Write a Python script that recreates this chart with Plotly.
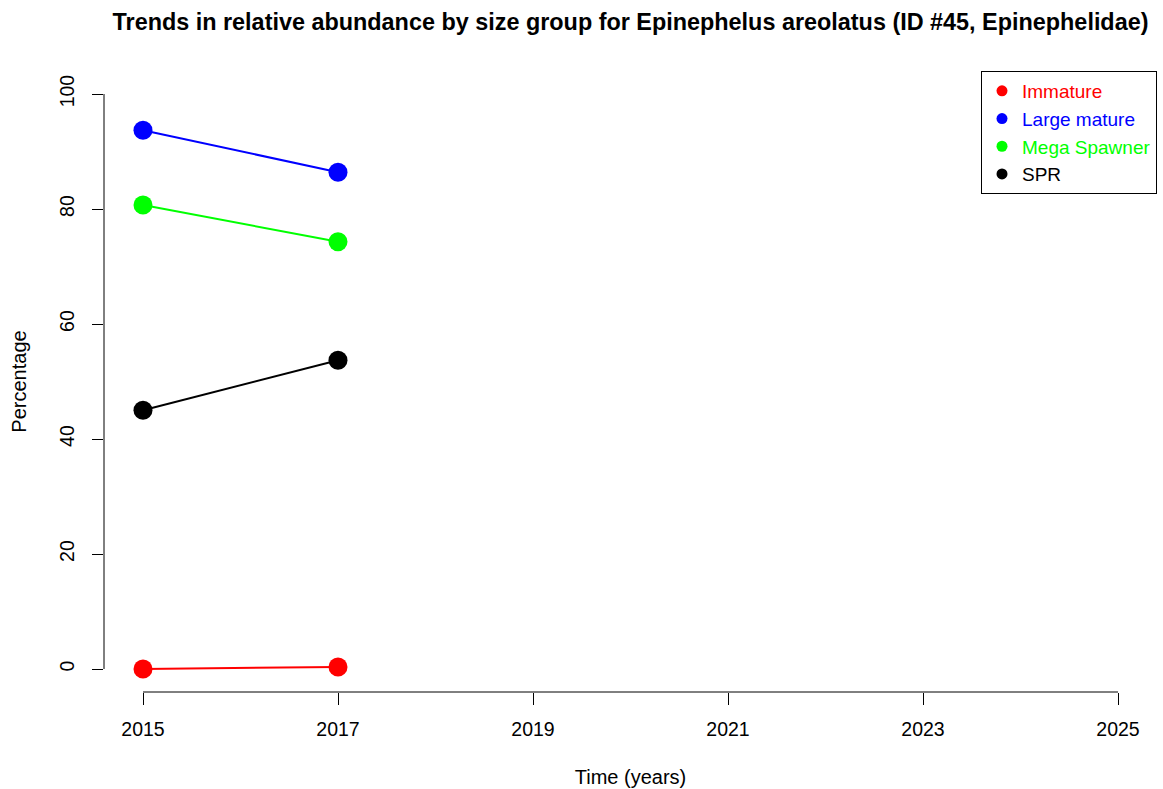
import plotly.graph_objects as go

# Survey years and percentage values per size group
years = [2015, 2017]
immature = [0.0, 0.35]
large_mature = [93.7, 86.4]
mega_spawner = [80.7, 74.3]
spr = [45.0, 53.7]

series_names = ["Immature", "Large mature", "Mega Spawner", "SPR"]
series_colors = ["#ff0000", "#0000ff", "#00ff00", "#000000"]
series_values = [immature, large_mature, mega_spawner, spr]

x_ticks = [2015, 2017, 2019, 2021, 2023, 2025]
y_ticks = [0, 20, 40, 60, 80, 100]

FONT = "Liberation Sans, Arial, Helvetica, sans-serif"

fig = go.Figure()

# Lines with large dots for each group
for name, color, vals in zip(series_names, series_colors, series_values):
    fig.add_trace(go.Scatter(
        x=years, y=vals, mode="lines+markers", name=name,
        line=dict(color=color, width=2),
        marker=dict(color=color, size=19),
        showlegend=False,
    ))

# Legend entries: dot symbol with coloured label
for name, color in zip(series_names, series_colors):
    fig.add_trace(go.Scatter(
        x=[None], y=[None], mode="markers",
        name=f'<span style="color:{color}">{name}</span>',
        marker=dict(color=color, size=11),
    ))

# Axis lines that span only the tick range
fig.add_shape(type="line", xref="x", yref="y domain",
              x0=x_ticks[0], x1=x_ticks[-1], y0=0, y1=0,
              line=dict(color="black", width=1))
fig.add_shape(type="line", xref="x domain", yref="y",
              x0=0, x1=0, y0=y_ticks[0], y1=y_ticks[-1],
              line=dict(color="black", width=1))

x_pad = 0.04 * (x_ticks[-1] - x_ticks[0])
y_pad = 0.04 * (y_ticks[-1] - y_ticks[0])

fig.update_layout(
    width=1163, height=789,
    paper_bgcolor="white", plot_bgcolor="white",
    margin=dict(l=104, r=6, t=71, b=97),
    font=dict(family=FONT, size=20, color="black"),
    title=dict(
        text="<b>Trends in relative abundance by size group for Epinephelus areolatus (ID #45, Epinephelidae)</b>",
        x=0.5, xref="paper", xanchor="center",
        y=1 - 22 / 789, yref="container", yanchor="middle",
        font=dict(size=23.4, family=FONT, color="black"),
    ),
    xaxis=dict(
        range=[x_ticks[0] - x_pad, x_ticks[-1] + x_pad],
        tickvals=x_ticks, ticktext=[str(t) for t in x_ticks],
        ticks="outside", ticklen=12, tickwidth=1, tickcolor="black",
        ticklabelstandoff=8,
        showline=False, showgrid=False, zeroline=False,
        title=dict(text="Time (years)", standoff=30, font=dict(size=20)),
        tickfont=dict(size=19.5),
    ),
    yaxis=dict(
        range=[y_ticks[0] - y_pad, y_ticks[-1] + y_pad],
        tickvals=y_ticks, ticktext=[str(t) for t in y_ticks],
        tickangle=-90,
        ticks="outside", ticklen=11, tickwidth=1, tickcolor="black",
        ticklabelstandoff=10,
        showline=False, showgrid=False, zeroline=False,
        title=dict(text="Percentage", standoff=24, font=dict(size=20)),
        tickfont=dict(size=19.5),
    ),
    legend=dict(
        x=1, xanchor="right", y=1, yanchor="top",
        xref="paper", yref="paper",
        bordercolor="black", borderwidth=1, bgcolor="white",
        font=dict(size=19),
        itemwidth=30,
        tracegroupgap=0,
    ),
)

fig.write_html("out.html")
